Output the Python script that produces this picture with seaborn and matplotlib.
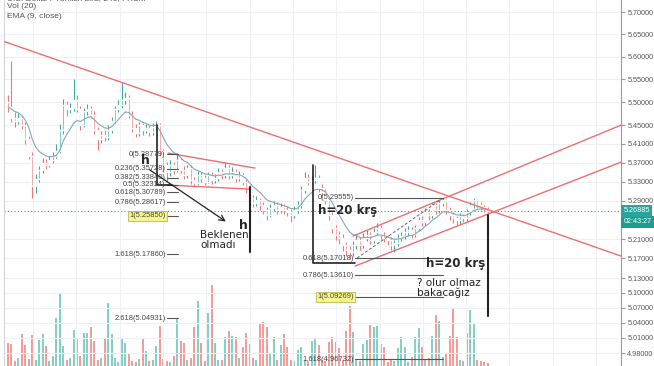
import numpy as np
import pandas as pd
import seaborn as sns
import matplotlib.pyplot as plt
from matplotlib.ticker import NullLocator

# 4h candles (price in TRY per USD)
closes = [5.490, 5.465, 5.460, 5.465, 5.450, 5.420, 5.385, 5.320, 5.335, 5.355,
          5.370, 5.365, 5.375, 5.385, 5.395, 5.440, 5.495, 5.485, 5.488, 5.505,
          5.485, 5.450, 5.480, 5.485, 5.473, 5.440, 5.420, 5.430, 5.425, 5.440,
          5.460, 5.485, 5.495, 5.505, 5.510, 5.473, 5.445, 5.433, 5.450, 5.440,
          5.445, 5.435, 5.447, 5.450, 5.395, 5.365, 5.350, 5.365, 5.355, 5.375,
          5.355, 5.343, 5.358, 5.333, 5.327, 5.343, 5.337, 5.330, 5.343, 5.333,
          5.337, 5.350, 5.343, 5.358, 5.343, 5.350, 5.337, 5.343, 5.330, 5.316,
          5.295, 5.285, 5.291, 5.280, 5.270, 5.260, 5.274, 5.280, 5.270, 5.276,
          5.270, 5.266, 5.260, 5.270, 5.280, 5.312, 5.337, 5.330, 5.333, 5.337,
          5.316, 5.308, 5.291, 5.260, 5.232, 5.218, 5.212, 5.197, 5.187, 5.183,
          5.197, 5.208, 5.197, 5.212, 5.218, 5.208, 5.224, 5.232, 5.218, 5.212,
          5.208, 5.197, 5.201, 5.212, 5.216, 5.224, 5.228, 5.220, 5.232, 5.249,
          5.245, 5.266, 5.260, 5.280, 5.270, 5.285, 5.291, 5.270, 5.260, 5.253,
          5.249, 5.258, 5.253, 5.266, 5.280, 5.291, 5.280, 5.276, 5.272, 5.269]
highs = [5.515, 5.590, 5.478, 5.476, 5.470, 5.458, 5.426, 5.392, 5.345, 5.362,
         5.380, 5.378, 5.384, 5.392, 5.410, 5.452, 5.508, 5.502, 5.498, 5.550,
         5.515, 5.492, 5.488, 5.496, 5.492, 5.480, 5.447, 5.438, 5.440, 5.450,
         5.468, 5.492, 5.505, 5.545, 5.522, 5.516, 5.480, 5.452, 5.458, 5.456,
         5.452, 5.450, 5.455, 5.460, 5.455, 5.400, 5.372, 5.375, 5.372, 5.390,
         5.380, 5.362, 5.366, 5.364, 5.340, 5.352, 5.350, 5.344, 5.350, 5.350,
         5.346, 5.358, 5.356, 5.372, 5.364, 5.360, 5.356, 5.352, 5.348, 5.336,
         5.322, 5.302, 5.300, 5.296, 5.288, 5.276, 5.282, 5.290, 5.286, 5.284,
         5.282, 5.278, 5.272, 5.278, 5.290, 5.320, 5.350, 5.345, 5.342, 5.365,
         5.344, 5.324, 5.314, 5.298, 5.266, 5.240, 5.226, 5.220, 5.204, 5.195,
         5.206, 5.218, 5.214, 5.222, 5.228, 5.224, 5.232, 5.243, 5.238, 5.225,
         5.219, 5.214, 5.209, 5.220, 5.225, 5.232, 5.236, 5.234, 5.240, 5.256,
         5.258, 5.275, 5.272, 5.288, 5.285, 5.292, 5.2955, 5.294, 5.276, 5.266,
         5.258, 5.264, 5.262, 5.272, 5.288, 5.296, 5.294, 5.286, 5.281, 5.276]
lows = [5.478, 5.458, 5.447, 5.452, 5.441, 5.410, 5.378, 5.295, 5.305, 5.328,
        5.348, 5.356, 5.360, 5.369, 5.380, 5.390, 5.432, 5.470, 5.476, 5.480,
        5.478, 5.440, 5.446, 5.472, 5.466, 5.432, 5.398, 5.412, 5.416, 5.418,
        5.434, 5.455, 5.478, 5.488, 5.496, 5.465, 5.436, 5.424, 5.428, 5.430,
        5.433, 5.427, 5.430, 5.440, 5.385, 5.350, 5.330, 5.342, 5.345, 5.350,
        5.348, 5.335, 5.338, 5.325, 5.318, 5.322, 5.330, 5.322, 5.326, 5.325,
        5.327, 5.332, 5.336, 5.338, 5.336, 5.338, 5.330, 5.332, 5.322, 5.305,
        5.285, 5.276, 5.279, 5.270, 5.262, 5.249, 5.255, 5.268, 5.262, 5.264,
        5.262, 5.258, 5.246, 5.254, 5.264, 5.275, 5.306, 5.322, 5.324, 5.326,
        5.308, 5.300, 5.282, 5.250, 5.222, 5.208, 5.200, 5.186, 5.176, 5.168,
        5.175, 5.190, 5.188, 5.192, 5.205, 5.200, 5.202, 5.218, 5.210, 5.204,
        5.198, 5.188, 5.183, 5.195, 5.205, 5.210, 5.216, 5.212, 5.214, 5.226,
        5.236, 5.240, 5.250, 5.254, 5.262, 5.264, 5.278, 5.262, 5.250, 5.244,
        5.240, 5.242, 5.245, 5.248, 5.260, 5.274, 5.274, 5.270, 5.266, 5.264]
volumes = [23, 22, 5, 8, 32, 21, 7, 31, 6, 26,
           32, 20, 5, 10, 48, 72, 20, 6, 8, 36,
           28, 10, 33, 33, 39, 25, 6, 8, 28, 63,
           32, 8, 4, 27, 23, 13, 5, 4, 7, 27,
           15, 5, 6, 20, 40, 7, 5, 4, 10, 47,
           25, 23, 6, 8, 39, 65, 23, 5, 53, 81,
           23, 6, 6, 29, 35, 30, 29, 8, 19, 33,
           22, 8, 6, 43, 44, 39, 13, 29, 6, 21,
           32, 19, 6, 5, 16, 19, 6, 5, 25, 27,
           21, 6, 5, 24, 29, 24, 18, 6, 35, 60,
           34, 6, 5, 22, 26, 41, 39, 40, 22, 19,
           4, 6, 5, 18, 29, 19, 4, 9, 29, 38,
           19, 6, 8, 30, 51, 45, 9, 13, 30, 57,
           29, 6, 5, 33, 56, 43, 6, 5, 4, 3]
first_open = 5.500

price_ticks = [5.70, 5.65, 5.60, 5.55, 5.50, 5.45, 5.41, 5.37, 5.33, 5.29,
               5.21, 5.17, 5.13, 5.10, 5.07, 5.04, 5.01, 4.98]
last_price = 5.26885
countdown = "02:43:27"

fib1_levels = ["0", "0.236", "0.382", "0.5", "0.618", "0.786", "1", "1.618", "2.618"]
fib1_prices = [5.38779, 5.35728, 5.33840, 5.32314, 5.30789, 5.28617, 5.25850, 5.17860, 5.04931]
fib2_levels = ["0", "0.618", "0.786", "1", "1.618"]
fib2_prices = [5.29555, 5.17018, 5.13610, 5.09269, 4.96732]

# drawings (bar index, price)
downtrend = ([-1.16, 177.7], [5.634, 5.175])
channel_up = ([100.0, 177.7], [5.2162, 5.4505])
channel_low = ([100.6, 177.7], [5.1546, 5.3712])
flag_up = ([46.4, 71.6], [5.3904, 5.3585])
flag_low = ([46.1, 70.1], [5.3225, 5.3141])

teal, red = "#3fa999", "#ec7c7c"
vol_teal, vol_red = "#86cfc4", "#f39c9a"
line_red = "#ee6f6f"
small_font = "Liberation Sans"

sns.set_style("white")
plt.rcParams["font.family"] = ["DejaVu Sans"]

idx = np.arange(len(closes))
opens = [first_open] + closes[:-1]
df = pd.DataFrame({"i": idx, "open": opens, "close": closes, "high": highs,
                   "low": lows, "vol": volumes})
df["dir"] = np.where(df["close"] >= df["open"], "up", "down")
df["ema"] = df["close"].ewm(span=9, adjust=False).mean()

fig = plt.figure(figsize=(6.54, 3.66), dpi=100)
ax = fig.add_axes([4 / 654, 0, 617 / 654, 1])
ax2 = ax.twinx()
ax.set_zorder(2)
ax2.set_zorder(1)
ax.patch.set_visible(False)

# volume
sns.barplot(data=df, x="i", y="vol", hue="dir", palette={"up": vol_teal, "down": vol_red},
            native_scale=True, dodge=False, width=0.58, saturation=1, legend=False,
            errorbar=None, linewidth=0, ax=ax2)
ax2.set_ylim(0, df["vol"].max() * 4.52)
ax2.set_yticks([])
ax2.set_xlabel("")
ax2.set_ylabel("")
for s in ax2.spines.values():
    s.set_visible(False)

# candles
cols = np.where(df["dir"] == "up", teal, red)
ax.vlines(df["i"], df["low"], df["high"], colors=cols, lw=0.8, zorder=3)
bottoms = np.minimum(df["open"], df["close"])
heights = np.maximum(np.abs(df["close"] - df["open"]), 0.001)
ax.bar(df["i"], heights, bottom=bottoms, width=0.45, color=cols, zorder=3)
sns.lineplot(data=df, x="i", y="ema", color="#86a6b8", lw=0.8, ax=ax, zorder=4)

ax.set_yscale("log")
ax.set_ylim(4.9545, 5.7273)
ax.set_xlim(-1.16, 177.68)
ax.set_yticks(price_ticks)
ax.set_yticklabels([f"{p:.5f}" for p in price_ticks], family=small_font)
ax.yaxis.set_minor_locator(NullLocator())
ax.yaxis.tick_right()
ax.tick_params(axis="y", length=3, color="#999999", labelsize=5.2, labelcolor="#555555", pad=1.5)
ax.set_xticks(np.arange(7.3, 178, 12.55))
ax.tick_params(axis="x", length=0, labelbottom=False)
ax.set_xlabel("")
ax.set_ylabel("")
ax.grid(True, color="#edf0f4", lw=0.8)
ax.set_axisbelow(True)
for k in ["top", "bottom"]:
    ax.spines[k].set_visible(False)
ax.spines["left"].set_color("#d5d5d5")
ax.spines["right"].set_color("#9a9a9a")

# trend lines
for xs, ys in [downtrend, channel_up, channel_low, flag_up, flag_low]:
    ax.plot(xs, ys, color=line_red, lw=1.0, zorder=5)

# last price
ax.axhline(last_price, color="#26a69a", ls=(0, (1, 2)), lw=0.8, zorder=2)
ytr = ax.get_yaxis_transform()
ax.text(1.004, last_price, f"{last_price:.5f}", transform=ytr, fontsize=5.2, family=small_font,
        color="white", va="center", ha="left",
        bbox=dict(boxstyle="square,pad=0.35", fc="#26a69a", ec="none"), zorder=10, clip_on=False)
ax.annotate(countdown, xy=(1.004, last_price), xycoords=ytr, xytext=(0, -8),
            textcoords="offset points", fontsize=5.2, family=small_font, color="white",
            va="center", ha="left", bbox=dict(boxstyle="square,pad=0.35", fc="#1f9c8e", ec="none"),
            annotation_clip=False)

# fibonacci retracements
def fib(levels, prices, x0, x1):
    for lv, p in zip(levels, prices):
        ax.plot([x0, x1], [p, p], color="#555555", lw=0.8, zorder=6)
        box = None
        if lv == "1":
            box = dict(boxstyle="square,pad=0.2", fc="#f6f68e", ec="#b9b94c", lw=0.6)
        ax.text(x0 - 0.4, p, f"{lv}({p:.5f})", fontsize=5.4, family=small_font,
                color="#444444", ha="right", va="center", bbox=box, zorder=7)

fib(fib1_levels, fib1_prices, 46.1, 49.3)
fib(fib2_levels, fib2_prices, 100.6, 126.1)
ax.plot([101.2, 125.2], [5.171, 5.291], color="#666666", lw=0.7, ls=(0, (3, 2)), zorder=6)

# measured moves
ax.plot([43.2, 43.2, 47.5], [5.4505, 5.3225, 5.3225], color="#222222", lw=1.2, zorder=6)
ax.plot([70.1, 70.1], [5.3183, 5.1832], color="#222222", lw=1.5, zorder=6)
ax.plot([88.4, 88.4, 100.6], [5.3648, 5.1607, 5.1607], color="#222222", lw=1.2, zorder=6)
ax.plot([139.1, 139.1], [5.2596, 5.0535], color="#222222", lw=1.5, zorder=6)
ax.annotate("", xy=(63.8, 5.2431), xytext=(40.3, 5.3585),
            arrowprops=dict(arrowstyle="->", color="#222222", lw=0.9), zorder=6)

ax.text(39.7, 5.375, "h", fontsize=9, fontweight="bold", ha="center", va="center", zorder=8)
ax.text(68.1, 5.239, "h", fontsize=9, fontweight="bold", ha="center", va="center", zorder=8)
ax.text(55.7, 5.208, "Beklenen\nolmadı", fontsize=7.5, ha="left", va="center",
        linespacing=0.95, color="#222222", zorder=8)
ax.text(89.9, 5.270, "h=20 krş", fontsize=8.5, fontweight="bold", ha="left", va="center", zorder=8)
ax.text(121.2, 5.1607, "h=20 krş", fontsize=8.5, fontweight="bold", ha="left", va="center", zorder=8)
ax.text(118.6, 5.1098, "? olur olmaz\nbakacağız", fontsize=7.5, ha="left", va="center",
        linespacing=0.95, color="#222222", zorder=8)

# legend texts top left
for y, t in [(1 + 1 / 366, "U.S. Dollar / Turkish Lira, 240, FXCM"),
             (1 - 7 / 366, "Vol (20)"), (1 - 17 / 366, "EMA (9, close)")]:
    ax.text(0.005, y, t, transform=ax.transAxes, fontsize=6, family=small_font,
            color="#555555", ha="left", va="center", clip_on=False)

fig.savefig("out.png", dpi=100, facecolor="white")
